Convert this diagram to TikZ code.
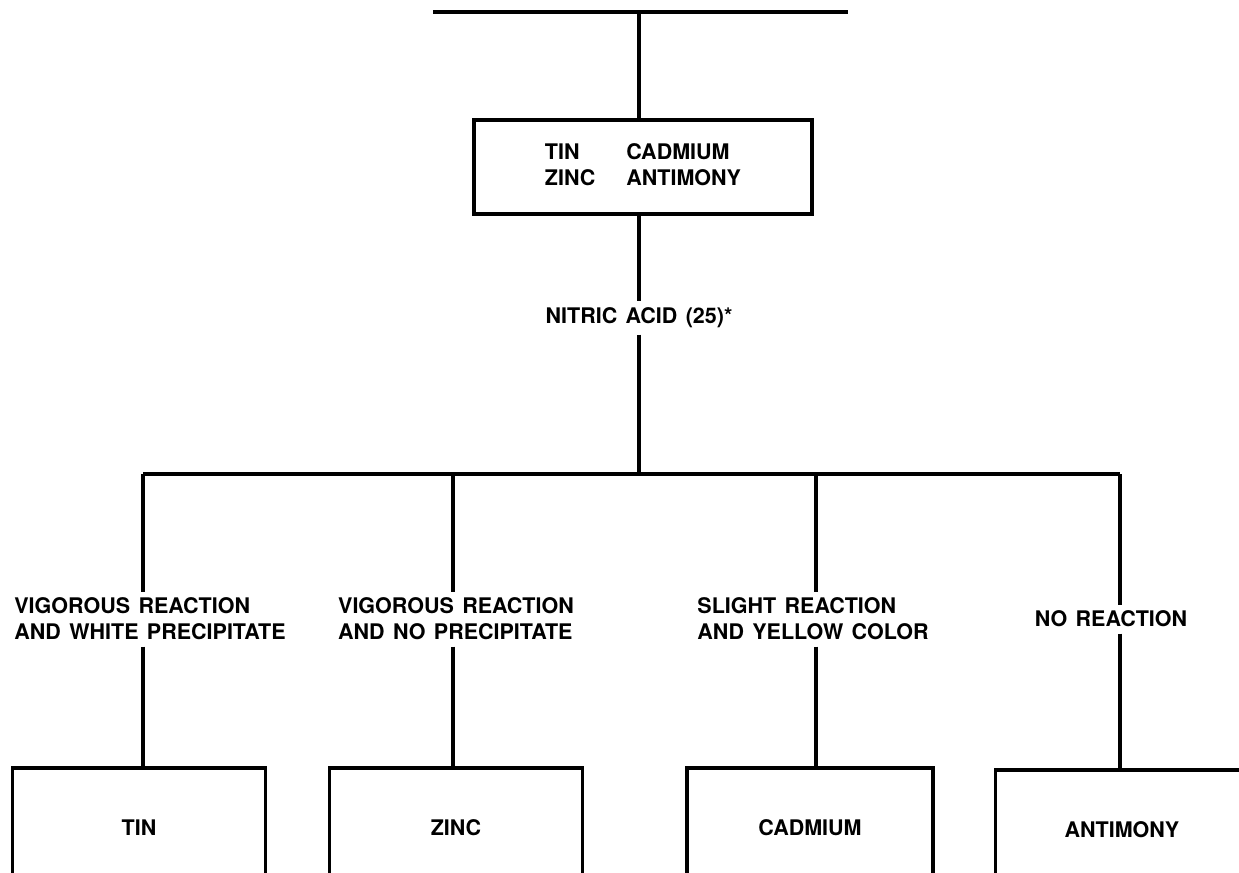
\documentclass[tikz,border=0pt]{standalone}
\usepackage{fontspec}
\setmainfont{TeX Gyre Heros}[WordSpace=1.4]
\usetikzlibrary{positioning}

\begin{document}
\begin{tikzpicture}[x=0.5pt, y=-0.5pt,
  box/.style={rectangle, draw, line width=1.7pt, minimum width=126.5pt, minimum height=60pt, font=\fontsize{10.75}{13}\selectfont\bfseries},
  lbl/.style={font=\fontsize{10.75}{13}\selectfont\bfseries, align=left, inner sep=3pt},
  link/.style={line width=2pt},
]
\clip (0,0) rectangle (1239,873);

% === Sample and reagent ===
\coordinate (feedL) at (433,12);
\coordinate (feedR) at (848,12);
\coordinate (feed) at (639,12);
\draw[link] (feedL) -- (feedR);

\node[box, minimum width=169pt, minimum height=47pt] (mix) at (643,167)
  {\begin{tabular}{@{}l@{\hspace{15.5pt}}l@{}}TIN & CADMIUM\\ ZINC & ANTIMONY\end{tabular}};
\draw[link] (feed) -- (feed |- mix.north);

\node[lbl] (acid) at (639,318) {NITRIC ACID (25)*};
\draw[link] (mix.south -| feed) -- (acid.north);

\coordinate (split) at (639,474);
\draw[link] (acid.south) -- (split);

% === Branches ===
\coordinate (b1) at (143,474);
\coordinate (b2) at (453,474);
\coordinate (b3) at (816,474);
\coordinate (b4) at (1120,474);
\draw[link] (b1) -- (b4);

\node[lbl] (obs1) at (150,619) {VIGOROUS REACTION\\AND WHITE PRECIPITATE};
\node[lbl] (obs2) at (456,619) {VIGOROUS REACTION\\AND NO PRECIPITATE};
\node[lbl] (obs3) at (813,619) {SLIGHT REACTION\\AND YELLOW COLOR};
\node[lbl] (obs4) at (1111,619) {NO REACTION};

% === Identified metals ===
\node[box] (tin) at (139,828) {TIN};
\node[box] (zinc) at (456,828) {ZINC};
\node[box, minimum width=123pt] (cad) at (810,828) {CADMIUM};
\node[box] (sb) at (1122,830) {ANTIMONY};

\foreach \i/\m in {1/tin, 2/zinc, 3/cad, 4/sb} {
  \draw[link] (b\i) -- (b\i |- obs\i.north);
  \draw[link] (b\i |- obs\i.south) -- (b\i |- \m.north);
}

\end{tikzpicture}
\end{document}
